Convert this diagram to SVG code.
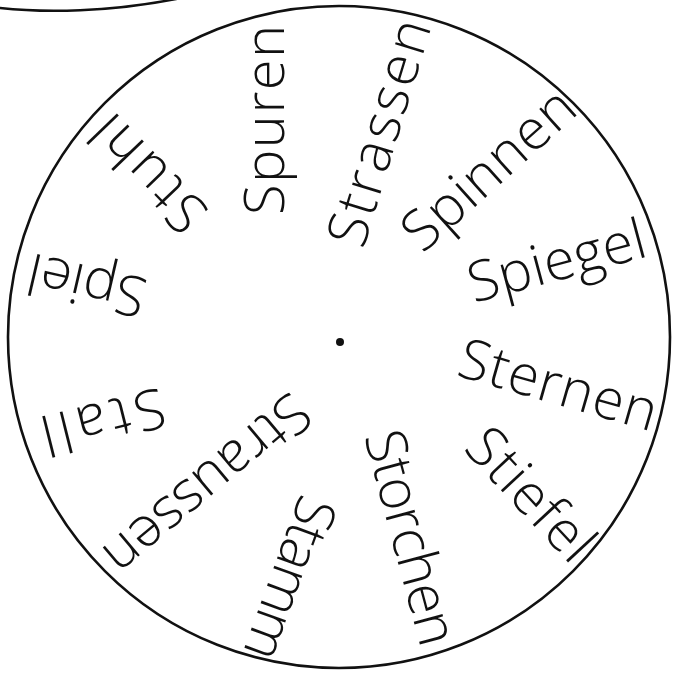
<svg xmlns="http://www.w3.org/2000/svg" width="676" height="675" viewBox="0 0 676 675">
<style>
.w{font-family:"Open Sans","Liberation Sans",sans-serif;font-weight:300;font-size:56px;fill:#111;text-anchor:middle}
.ln{fill:none;stroke:#111;stroke-width:2.6;stroke-linecap:round}
</style>
<rect width="676" height="675" fill="#fff"/>
<path class="ln" d="M0,8 C45,13 110,12 176,-1"/>
<circle class="ln" cx="339" cy="337" r="331"/>
<circle cx="340" cy="342" r="4" fill="#111"/>
<g id="connectors"/>
<g id="sternen" transform="translate(557,390) rotate(16)"><text class="w" x="0" y="14" textLength="204" lengthAdjust="spacing">Sternen</text></g>
<g id="spiegel" transform="translate(558,266) rotate(-15)"><text class="w" x="0" y="14" textLength="182" lengthAdjust="spacing">Spiegel</text></g>
<g id="spinnen" transform="translate(492,173) rotate(-42)"><text class="w" x="0" y="14" textLength="212" lengthAdjust="spacing">Spinnen</text></g>
<g id="strassen" transform="translate(384,134) rotate(-73)"><text class="w" x="0" y="14" textLength="234" lengthAdjust="spacing">Strassen</text></g>
<g id="spuren" transform="translate(270,120) rotate(-90)"><text class="w" x="0" y="14" textLength="190" lengthAdjust="spacing">Spuren</text></g>
<g id="stuhl" transform="translate(152,170) rotate(226)"><text class="w" x="0" y="14" textLength="140" lengthAdjust="spacing">Stuhl</text></g>
<g id="spiel" transform="translate(88,280) rotate(193)"><text class="w" x="0" y="14" textLength="120" lengthAdjust="spacing">Spiel</text></g>
<g id="stall" transform="translate(102,416) rotate(166)"><text class="w" x="0" y="14" textLength="126" lengthAdjust="spacing">Stall</text></g>
<g id="straussen" transform="translate(204,481) rotate(140)"><text class="w" x="0" y="14" textLength="250" lengthAdjust="spacing">Straussen</text></g>
<g id="stamm" transform="translate(285,577) rotate(110)"><text class="w" x="0" y="14" textLength="170" lengthAdjust="spacing">Stamm</text></g>
<g id="storchen" transform="translate(406,539) rotate(75)"><text class="w" x="0" y="14" textLength="220" lengthAdjust="spacing">Storchen</text></g>
<g id="stiefel" transform="translate(527,498) rotate(47)"><text class="w" x="0" y="14" textLength="160" lengthAdjust="spacing">Stiefel</text></g>
</svg>
